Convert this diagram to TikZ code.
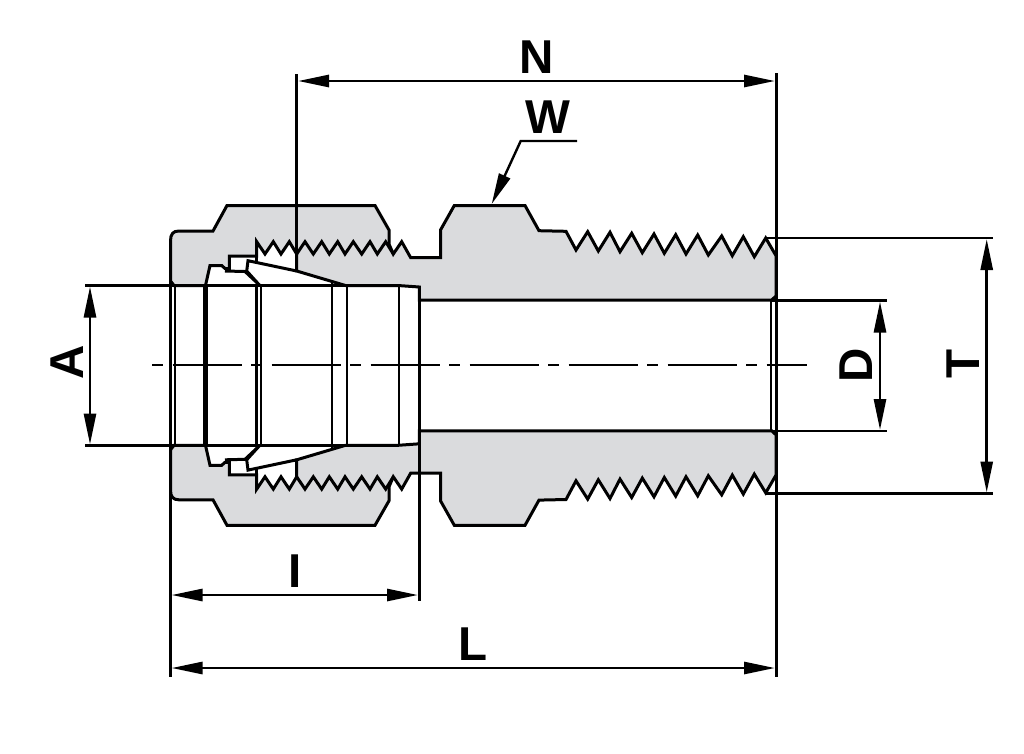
\documentclass[tikz,border=0pt]{standalone}
\usepackage{fontspec}
\setmainfont{Liberation Sans}
\usetikzlibrary{arrows.meta}
\definecolor{bodygray}{HTML}{DADBDD}
\tikzset{
  outline/.style={draw=black,line width=3pt,miter limit=6},
  thinoutline/.style={draw=black,line width=2.4pt},
  solid fill/.style={outline,fill=bodygray},
  extline/.style={draw=black,line width=2.4pt},
  dimline/.style={draw=black,line width=2.8pt,{Triangle[length=31pt,width=12pt]}-{Triangle[length=31pt,width=12pt]}},
  centerline/.style={draw=black,line width=1.8pt,dash pattern=on 11pt off 9.5pt on 69pt off 9.5pt},
  dimlabel/.style={inner sep=0pt,font=\bfseries\fontsize{47.5}{47.5}\selectfont}
}
\newcommand{\fittinghalf}{%
  \path[solid fill] (174,285.5) -- (170.5,281) -- (170.5,241)
    .. controls (170.5,234) and (173,231) .. (179,231)
    -- (213,231) -- (227,205.5) -- (375,205.5) -- (389,230) -- (389,244)
    -- (393.3,254) -- (401.7,241.7) -- (410.7,257.7) -- (440.5,257.7) -- (440.5,230)
    -- (454.3,205.5) -- (525,205.5) -- (539,230.7) -- (566,231.3)
    -- (576,250) -- (587.7,231.7) -- (598.3,251) -- (610,232.3) -- (620,251.7)
    -- (631.7,233.3) -- (642.3,252.7) -- (654,234) -- (664.3,253.3) -- (675.7,234.7)
    -- (686,254) -- (697.7,235) -- (708.3,255) -- (721.7,236) -- (732.3,255.7)
    -- (743.3,236.7) -- (754.3,256.7) -- (765.7,238) -- (776,255.7)
    -- (776,296) -- (771.7,300) -- (419.3,300) -- (419.3,287) -- (398,285.5)
    -- (345.5,285.5) -- (296.7,271) -- (296.7,254)
    -- (289.3,241.7) -- (281,254) -- (273.3,241.7) -- (265,254) -- (256.7,241.7)
    -- (256.7,256) -- (229.3,256) -- (229.3,268.5) -- (225,268.5) -- (221.7,265.5)
    -- (210,265.5) -- (205.5,285.5) -- cycle;
  \draw[outline] (296.7,254) -- (305,241.7) -- (313.3,254) -- (321.7,241.7) -- (329.3,254)
    -- (337.7,241.7) -- (345,254) -- (353.3,241.7) -- (361.7,254) -- (370,241.7)
    -- (377.3,254) -- (385.7,241.7) -- (393.3,254);
  \draw[outline] (225,271) -- (245,271.5) -- (260,285.5);
  \draw[outline] (256.7,256) -- (256.7,262.5);
  \draw[outline] (296.7,271) -- (248,260.7) -- (246.7,271) -- (258,283.5);
  \draw[outline] (174,285.5) -- (398,285.5);
}
\begin{document}
\begin{tikzpicture}[x=1pt,y=-1pt]
\useasboundingbox (0,0) rectangle (1024,753);
% body halves
\fittinghalf
\begin{scope}[shift={(0,730.8)},yscale=-1]
  \fittinghalf
\end{scope}
% bore lines
\foreach \bx/\ya/\yb in {175/285.5/445.3,256.5/284/447,261.2/285.5/445.3,331.7/281/449.8,346.7/285.5/445.3,399/285.5/445.3,419.3/287/443.8}
  \draw[thinoutline] (\bx,\ya) -- (\bx,\yb);
\draw[thinoutline] (771,300) -- (771,430.8);
\draw[draw=black,line width=4.8pt] (205.5,285.5) -- (205.5,445.3);
% centre line
\coordinate (cl1) at (152,365);
\coordinate (cl2) at (807,365);
\draw[centerline] (cl1) -- (cl2);
% extension lines
\coordinate (extN1) at (296.7,74);   \coordinate (extN2) at (296.7,271);
\coordinate (extR1) at (776,73);     \coordinate (extR2) at (776,677);
\coordinate (extL1) at (170.5,281);  \coordinate (extL2) at (170.5,677);
\coordinate (extI1) at (419.3,431);  \coordinate (extI2) at (419.3,601);
\coordinate (extA1) at (85,285.5);   \coordinate (extA1b) at (174,285.5);
\coordinate (extA2) at (85,445.3);   \coordinate (extA2b) at (174,445.3);
\coordinate (extD1) at (771.7,300.5);\coordinate (extD1b) at (887,300.5);
\coordinate (extD2) at (771.7,430.7);\coordinate (extD2b) at (887,430.7);
\coordinate (extT1) at (765.7,238);  \coordinate (extT1b) at (993,238);
\coordinate (extT2) at (765.7,493.5);\coordinate (extT2b) at (993,493.5);
\draw[outline] (extN1) -- (extN2);
\draw[outline] (extR1) -- (extR2);
\draw[outline] (extL1) -- (extL2);
\draw[outline] (extI1) -- (extI2);
\foreach \pa/\pb in {extA1/extA1b,extA2/extA2b,extD1/extD1b,extD2/extD2b,extT1/extT1b,extT2/extT2b}
  \draw[extline] (\pa) -- (\pb);
% dimensions
\coordinate (dN1) at (298,81);    \coordinate (dN2) at (775,81);
\coordinate (dI1) at (171.5,595); \coordinate (dI2) at (418,595);
\coordinate (dL1) at (171.5,668); \coordinate (dL2) at (775,668);
\coordinate (dA1) at (90,286.5);  \coordinate (dA2) at (90,444.5);
\coordinate (dD1) at (880,301.5); \coordinate (dD2) at (880,430);
\coordinate (dT1) at (986.7,239); \coordinate (dT2) at (986.7,492.5);
\foreach \pa/\pb in {dN1/dN2,dI1/dI2,dL1/dL2,dA1/dA2,dD1/dD2,dT1/dT2}
  \draw[dimline] (\pa) -- (\pb);
% W leader
\coordinate (w1) at (577,141);
\coordinate (w2) at (520.7,141);
\coordinate (w3) at (491.7,204);
\draw[extline,-{Triangle[length=31pt,width=12pt]}] (w1) -- (w2) -- (w3);
% labels
\node[dimlabel] (labN) at (536.7,57) {N};
\node[dimlabel] (labW) at (548,117) {W};
\node[dimlabel,rotate=90] (labA) at (66.7,362.5) {A};
\node[dimlabel,rotate=90] (labD) at (855.7,365.3) {D};
\node[dimlabel,rotate=90] (labT) at (962.7,364) {T};
\node[dimlabel] (labI) at (295.3,571) {I};
\node[dimlabel] (labL) at (472.8,644) {L};
\end{tikzpicture}
\end{document}
